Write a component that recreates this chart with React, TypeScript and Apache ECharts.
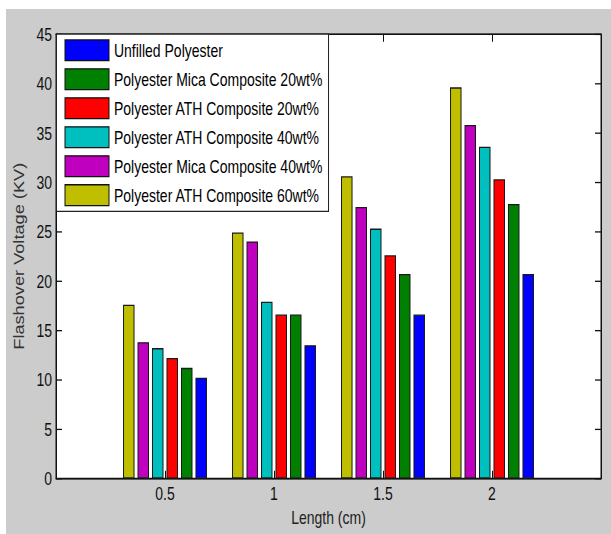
import React, { useEffect, useRef } from "react";
import * as echarts from "echarts";

// Electrode length (cm) for each group of bars
const lengths = [0.5, 1, 1.5, 2];

// Flashover voltage (kV) per material, one value per length
const unfilledPolyester = [10.2, 13.5, 16.6, 20.7];
const micaComposite20 = [11.2, 16.6, 20.7, 27.8];
const athComposite20 = [12.2, 16.6, 22.6, 30.3];
const athComposite40 = [13.2, 17.9, 25.3, 33.6];
const micaComposite40 = [13.8, 24.0, 27.5, 35.8];
const athComposite60 = [17.6, 24.9, 30.6, 39.6];

// Legend order (top to bottom)
const legendNames = [
  "Unfilled Polyester",
  "Polyester Mica Composite 20wt%",
  "Polyester ATH Composite 20wt%",
  "Polyester ATH Composite 40wt%",
  "Polyester Mica Composite 40wt%",
  "Polyester ATH Composite 60wt%",
];

// Bars within a group, left to right
const barSeries = [
  { name: "Polyester ATH Composite 60wt%", values: athComposite60, color: "#BFBF00" },
  { name: "Polyester Mica Composite 40wt%", values: micaComposite40, color: "#BF00BF" },
  { name: "Polyester ATH Composite 40wt%", values: athComposite40, color: "#00BFBF" },
  { name: "Polyester ATH Composite 20wt%", values: athComposite20, color: "#FF0000" },
  { name: "Polyester Mica Composite 20wt%", values: micaComposite20, color: "#008000" },
  { name: "Unfilled Polyester", values: unfilledPolyester, color: "#0000FF" },
];

const W = 611;
const H = 534;
const STRETCH = 1.2993; // the figure is drawn vertically stretched
const innerH = Math.round(H / STRETCH);

const FONT = "'Liberation Sans', Arial, Helvetica, sans-serif";

const makeAxisLine = () => ({ show: true, onZero: false, lineStyle: { color: "#111", width: 1 } });
// ticks point into the plot area
const makeTick = () => ({
  show: true,
  inside: false,
  length: -6,
  lineStyle: { color: "#111", width: 1 },
});

export default function App() {
  const ref = useRef<HTMLDivElement>(null);

  useEffect(() => {
    if (!ref.current) return;
    const chart = echarts.init(ref.current, null, { renderer: "svg" });

    chart.setOption({
      animation: false,
      backgroundColor: "transparent",
      textStyle: { fontFamily: FONT },
      grid: {
        left: 56,
        right: 10,
        top: 26.2,
        bottom: innerH - 478.5 / STRETCH,
        show: true,
        backgroundColor: "#ffffff",
        borderColor: "#111",
        borderWidth: 1,
      },
      legend: {
        data: legendNames,
        orient: "vertical",
        left: 56.5,
        top: 26.2,
        padding: [4, 6, 4, 8],
        itemWidth: 44,
        itemHeight: 16,
        itemGap: 5.3,
        icon: "rect",
        backgroundColor: "#ffffff",
        borderColor: "#222",
        borderWidth: 1,
        selectedMode: false,
        itemStyle: { borderColor: "#111", borderWidth: 1 },
        textStyle: { fontFamily: FONT, fontSize: 14, color: "#000" },
        z: 10,
      },
      xAxis: [
        {
          type: "value",
          position: "bottom",
          min: 0,
          max: 2.5,
          interval: 0.5,
          name: "Length (cm)",
          nameLocation: "middle",
          nameGap: 22,
          nameTextStyle: { fontFamily: FONT, fontSize: 14, color: "#222" },
          axisLine: makeAxisLine(),
          axisTick: makeTick(),
          splitLine: { show: false },
          axisLabel: {
            margin: 4,
            fontFamily: FONT,
            fontSize: 14,
            color: "#111",
            showMinLabel: false,
            showMaxLabel: false,
            formatter: (v: number) => (lengths.indexOf(v) >= 0 ? String(v) : ""),
          },
        },
        {
          type: "value",
          position: "top",
          min: 0,
          max: 2.5,
          interval: 0.5,
          axisLine: makeAxisLine(),
          axisTick: makeTick(),
          axisLabel: { show: false },
          splitLine: { show: false },
        },
      ],
      yAxis: [
        {
          type: "value",
          position: "left",
          min: 0,
          max: 45,
          interval: 5,
          name: "Flashover Voltage (KV)",
          nameLocation: "middle",
          nameGap: 30,
          nameTextStyle: { fontFamily: FONT, fontSize: 14, color: "#333" },
          axisLine: makeAxisLine(),
          axisTick: makeTick(),
          splitLine: { show: false },
          axisLabel: { margin: 4, fontFamily: FONT, fontSize: 14, color: "#111" },
        },
        {
          type: "value",
          position: "right",
          min: 0,
          max: 45,
          interval: 5,
          axisLine: makeAxisLine(),
          axisTick: makeTick(),
          axisLabel: { show: false },
          splitLine: { show: false },
        },
      ],
      series: barSeries.map((s) => ({
        name: s.name,
        type: "bar",
        xAxisIndex: 0,
        yAxisIndex: 0,
        barWidth: 11.5,
        barGap: "26%",
        data: lengths.map((x, i) => [x, s.values[i]]),
        itemStyle: { color: s.color, borderColor: "#1a1a1a", borderWidth: 1 },
      })),
    });

    return () => chart.dispose();
  }, []);

  return (
    <div
      style={{
        position: "absolute",
        left: 0,
        top: 0,
        width: W,
        height: H,
        background: "#ffffff",
        overflow: "hidden",
      }}
    >
      <div
        style={{
          position: "absolute",
          left: 6,
          top: 8.5,
          right: 0,
          bottom: 0,
          background: "#cccccc",
        }}
      />
      <div
        ref={ref}
        style={{
          position: "absolute",
          left: 0,
          top: 0,
          width: W,
          height: innerH,
          transform: `scaleY(${H / innerH})`,
          transformOrigin: "top left",
        }}
      />
    </div>
  );
}
